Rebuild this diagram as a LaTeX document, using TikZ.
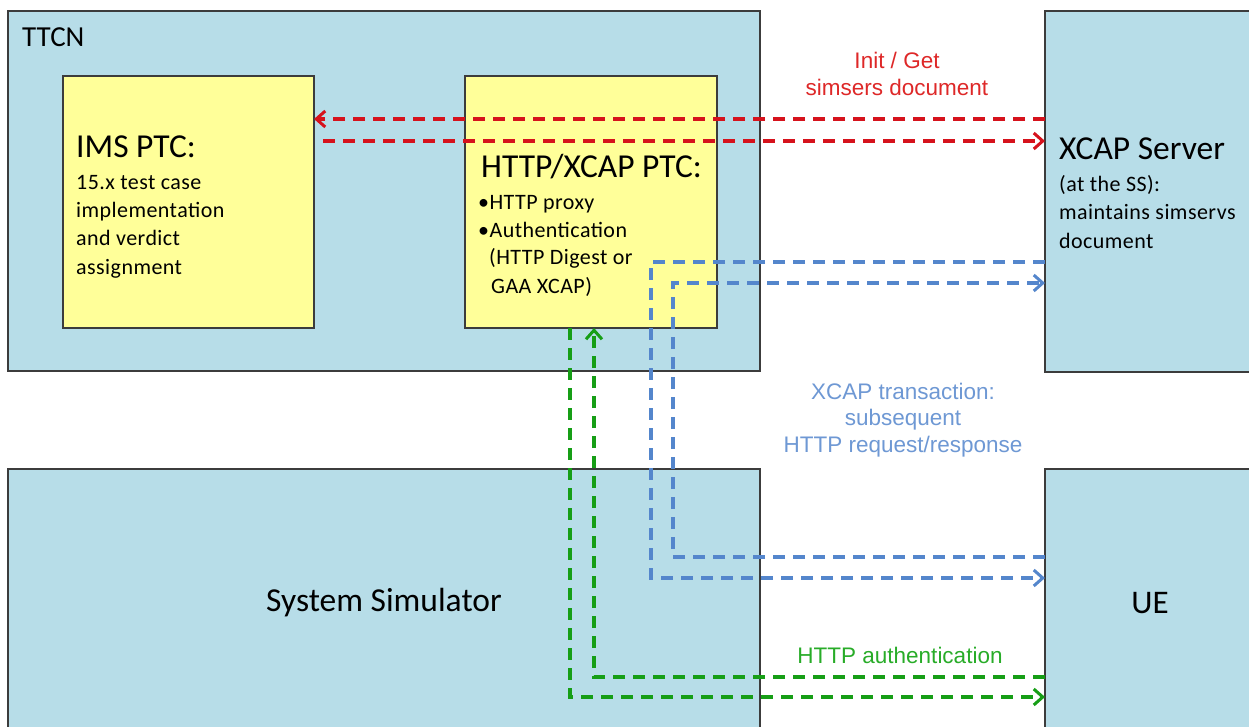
\documentclass[tikz,border=0pt]{standalone}
\usepackage{fontspec}
\setmainfont{Carlito}
\newfontfamily\labelfont{Liberation Sans}
\newfontfamily\spacedfont[LetterSpace=2]{Carlito}
\usetikzlibrary{arrows.meta}
\definecolor{boxblue}{RGB}{183,221,232}
\definecolor{boxyellow}{RGB}{255,255,153}
\definecolor{edgegray}{RGB}{60,60,60}
\definecolor{lnred}{RGB}{214,18,28}
\definecolor{lnblue}{RGB}{84,134,204}
\definecolor{lngreen}{RGB}{22,158,22}
\definecolor{txred}{RGB}{222,40,40}
\definecolor{txblue}{RGB}{110,152,212}
\definecolor{txgreen}{RGB}{40,172,40}
\begin{document}
\begin{tikzpicture}[x=1pt,y=-1pt,
  box/.style={draw=edgegray, line width=1.5pt, inner sep=0pt, outer sep=0pt},
  bluebox/.style={box, fill=boxblue},
  yellowbox/.style={box, fill=boxyellow},
  conn/.style={line width=3.2pt, dash pattern=on 12pt off 8pt},
  tipped/.style={-{Straight Barb[length=9pt,width=16pt,line width=3pt]}},
  bigtxt/.style={anchor=base west, inner sep=0pt, font=\fontsize{33.5}{40}\selectfont},
  smalltxt/.style={anchor=base west, inner sep=0pt, font=\spacedfont\fontsize{22}{26}\selectfont},
  lbl/.style={anchor=base, inner sep=0pt, font=\labelfont\fontsize{22.5}{27}\selectfont}
]
\useasboundingbox (0,0) rectangle (1249,727);
\clip (0,0) rectangle (1249,727);
\fill[white] (0,0) rectangle (1249,727);

% boxes
\node[bluebox, minimum width=752pt, minimum height=360pt] (ttcn) at (384,191) {};
\node[yellowbox, minimum width=251pt, minimum height=252pt] (ims) at (188.5,202) {};
\node[yellowbox, minimum width=252pt, minimum height=252pt] (http) at (591,202) {};
\node[bluebox, minimum width=225pt, minimum height=361pt] (xcap) at (1157.5,191.5) {};
\node[bluebox, minimum width=752pt, minimum height=291pt] (ss) at (384,614.5) {};
\node[bluebox, minimum width=225pt, minimum height=291pt] (ue) at (1157.5,614.5) {};

% texts in boxes
\node[anchor=base west, inner sep=0pt, font=\fontsize{29}{34}\selectfont] (ttcnlbl) at (22,47) {TTCN};

\node[bigtxt] (imst) at (76,158) {IMS PTC:};
\node[smalltxt] (ims1) at (76,190) {15.x test case};
\node[smalltxt] (ims2) at (76,218) {implementation};
\node[smalltxt] (ims3) at (76,246) {and verdict};
\node[smalltxt] (ims4) at (76,274) {assignment};

\node[bigtxt] (httpt) at (481,178) {HTTP/XCAP PTC:};
\node[smalltxt] (http1) at (478,210) {•HTTP proxy};
\node[smalltxt] (http2) at (478,237) {•Authentication};
\node[smalltxt] (http3) at (489,265) {(HTTP Digest or};
\node[smalltxt] (http4) at (491,293) {GAA XCAP)};

\node[bigtxt] (xcapt) at (1059,160) {XCAP Server};
\node[smalltxt] (xcap1) at (1059,192) {(at the SS):};
\node[smalltxt] (xcap2) at (1059,220) {maintains simservs};
\node[smalltxt] (xcap3) at (1059,248) {document};

\node[inner sep=0pt, font=\fontsize{33.5}{40}\selectfont] (sst) at (384,603) {System Simulator};
\node[inner sep=0pt, font=\fontsize{33}{40}\selectfont] (uet) at (1150,603) {UE};

% connectors
\coordinate (redstart) at (323,141);
\draw[conn, lnred, tipped] (xcap.west |- 0,119) -- (ims.east |- 0,119);
\draw[conn, lnred, tipped] (redstart) -- (xcap.west |- redstart);

\draw[conn, lnblue, tipped] (xcap.west |- 0,262) -| (651,578) -- (ue.west |- 0,578);
\draw[conn, lnblue, tipped] (ue.west |- 0,557) -| (673,283) -- (xcap.west |- 0,283);

\draw[conn, lngreen, tipped] (http.south -| 570,0) |- (ue.west |- 0,697);
\draw[conn, lngreen, tipped] (ue.west |- 0,677) -| (http.south -| 594,0);

% labels
\node[lbl, text=txred] (redl1) at (897,69) {Init / Get};
\node[lbl, text=txred] (redl2) at (897,96) {simsers document};
\node[lbl, text=txblue] (bluel1) at (903,399) {XCAP transaction:};
\node[lbl, text=txblue] (bluel2) at (903,425) {subsequent};
\node[lbl, text=txblue] (bluel3) at (903,452) {HTTP request/response};
\node[lbl, text=txgreen] (greenl) at (900,663) {HTTP authentication};
\end{tikzpicture}
\end{document}
